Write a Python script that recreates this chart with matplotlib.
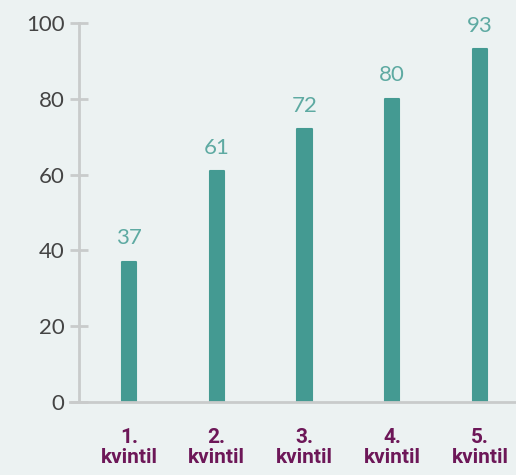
import matplotlib
matplotlib.use("Agg")
from matplotlib import pyplot as plt

categories = ["1.\nkvintil", "2.\nkvintil", "3.\nkvintil", "4.\nkvintil", "5.\nkvintil"]
values = [37, 61, 72, 80, 93]
yticks = [0, 20, 40, 60, 80, 100]

bg = "#ecf2f2"
bar_col = "#449a92"
lbl_col = "#5eaaa2"
axis_col = "#c9cbcb"
purple = "#6d1758"

fig = plt.figure(figsize=(5.16, 4.75), dpi=100, facecolor=bg)
ax = fig.add_axes([0.153, 0.1537, 0.847, 0.798])
ax.set_facecolor(bg)

x = list(range(len(values)))
ax.bar(x, values, width=0.16, color=bar_col, edgecolor=bar_col, linewidth=1.5,
       joinstyle="round", zorder=3)
for xi, v in zip(x, values):
    ax.text(xi, v + 3.5, str(v), ha="center", va="bottom", color=lbl_col,
            fontsize=16, family="Lato")

ax.set_xlim(-0.57, 4.41)
ax.set_ylim(0, 100)
ax.set_yticks(yticks)
ax.set_yticklabels([str(t) for t in yticks], fontsize=16, color="#444444",
                   family="Lato")
ax.set_xticks(x)
ax.set_xticklabels(categories, fontsize=15, fontweight="bold", color=purple,
                   family="Roboto", linespacing=1.05)

for s in ["top", "right", "bottom"]:
    ax.spines[s].set_visible(False)
ax.spines["left"].set_color(axis_col)
ax.spines["left"].set_linewidth(2)
ax.tick_params(axis="y", direction="inout", length=13, width=2, color=axis_col, pad=4)
ax.tick_params(axis="x", length=0, pad=19)
ax.axhline(0, xmin=-0.02, xmax=1, color=axis_col, lw=2, clip_on=False, zorder=4)

fig.savefig("out.png", dpi=100, facecolor=bg)
